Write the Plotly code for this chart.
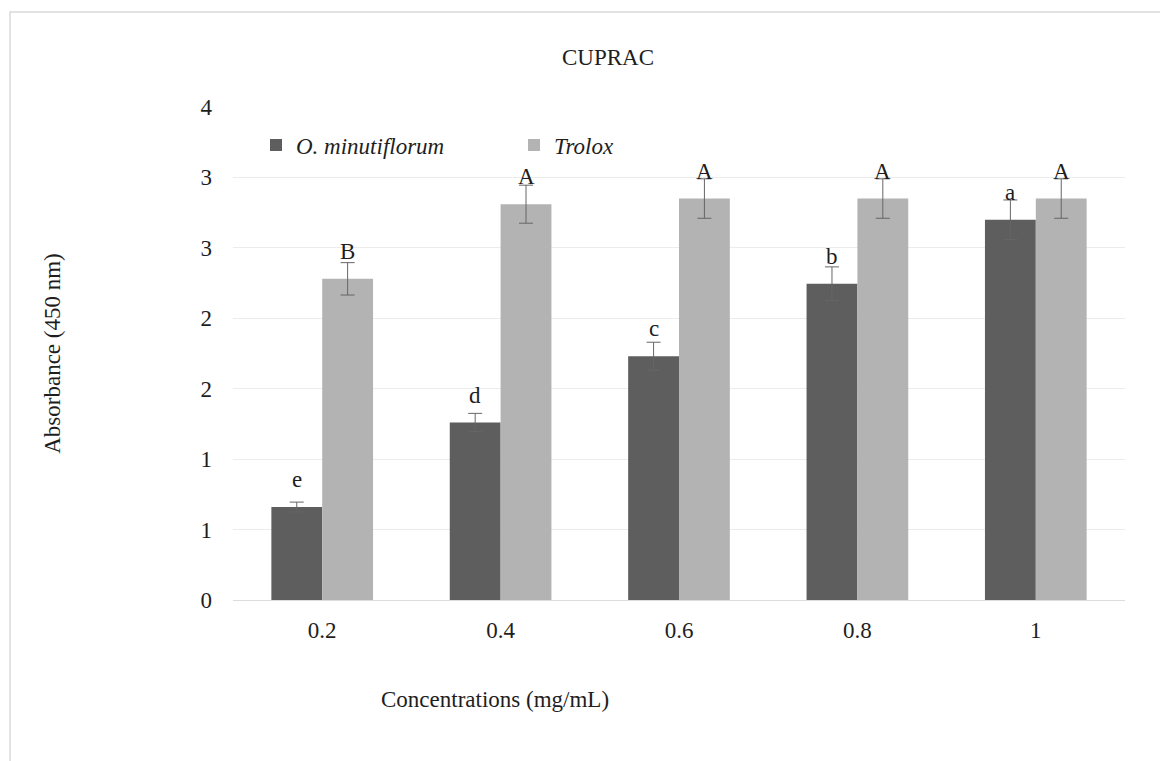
import plotly.graph_objects as go

categories = ["0.2", "0.4", "0.6", "0.8", "1"]
omin_values = [0.66, 1.26, 1.73, 2.245, 2.70]
omin_err = [0.035, 0.065, 0.10, 0.12, 0.14]
omin_letters = ["e", "d", "c", "b", "a"]
trolox_values = [2.28, 2.81, 2.85, 2.85, 2.85]
trolox_err = [0.115, 0.135, 0.14, 0.14, 0.14]
trolox_letters = ["B", "A", "A", "A", "A"]
ytick_vals = [0, 0.5, 1, 1.5, 2, 2.5, 3, 3.5]
ytick_text = ["0", "1", "1", "2", "2", "3", "3", "4"]

FONT = "Liberation Serif"
FS = 23
ERRC = "#666666"
TXT = "#1e1e1e"

# page body adds an 8px margin; work in figure coordinates
W, H = 1160, 753
L, R, T, B = 225, 1117, 99, 592  # plot area edges (figure px)
PW, PH = R - L, B - T

fig = go.Figure()
fig.add_trace(go.Bar(
    x=categories, y=omin_values, name="<i>O. minutiflorum</i>",
    marker=dict(color="#5e5e5e", line=dict(width=0)),
    error_y=dict(type="data", array=omin_err, color=ERRC, thickness=1, width=7),
))
fig.add_trace(go.Bar(
    x=categories, y=trolox_values, name="<i>Trolox</i>",
    marker=dict(color="#b3b3b3", line=dict(width=0)),
    error_y=dict(type="data", array=trolox_err, color=ERRC, thickness=1, width=7),
))

for i, c in enumerate(categories):
    fig.add_annotation(x=i, y=omin_values[i], text=omin_letters[i],
                       xshift=-25.4, yshift=13, showarrow=False, yanchor="bottom",
                       font=dict(family=FONT, size=FS, color=TXT))
    fig.add_annotation(x=i, y=trolox_values[i], text=trolox_letters[i],
                       xshift=25.4, yshift=13, showarrow=False, yanchor="bottom",
                       font=dict(family=FONT, size=FS, color=TXT))

# x-axis title (offset to the left as in the original)
fig.add_annotation(xref="paper", yref="paper", x=(487 - L) / PW, y=(B - 691) / PH,
                   text="Concentrations (mg/mL)", showarrow=False,
                   xanchor="center", yanchor="middle",
                   font=dict(family=FONT, size=FS, color=TXT))

# outer frame
fig.add_shape(type="rect", xref="paper", yref="paper",
              x0=(2 - L) / PW, x1=1.3, y0=-0.6, y1=(B - 4) / PH,
              line=dict(color="#d9d9d9", width=1.5), fillcolor="rgba(0,0,0,0)", layer="below")

fig.update_layout(
    width=W, height=H,
    margin=dict(l=L, r=W - R, t=T, b=H - B),
    paper_bgcolor="white", plot_bgcolor="white",
    barmode="group", bargap=0.43, bargroupgap=0,
    font=dict(family=FONT, size=FS, color=TXT),
    title=dict(text="CUPRAC", x=600 / W, xanchor="center", y=1 - 49 / H, yanchor="middle",
               font=dict(family=FONT, size=FS, color=TXT)),
    showlegend=True,
    legend=dict(orientation="h", x=(248 - L) / PW, y=(B - 137) / PH, xanchor="left", yanchor="middle",
                bgcolor="rgba(0,0,0,0)", font=dict(family=FONT, size=FS, color=TXT),
                itemwidth=30, entrywidth=213, entrywidthmode="pixels", traceorder="normal"),
    xaxis=dict(type="category", showgrid=False, showline=True, linecolor="#dcdcdc", linewidth=1,
               ticks="", tickfont=dict(family=FONT, size=FS, color=TXT),
               ticklabelstandoff=9),
    yaxis=dict(range=[0, 3.5], tickvals=ytick_vals, ticktext=ytick_text,
               showgrid=True, gridcolor="#ececec", gridwidth=1, zeroline=False,
               showline=False, ticks="", ticklabelstandoff=20,
               tickfont=dict(family=FONT, size=FS, color=TXT),
               title=dict(text="Absorbance (450 nm)", standoff=133,
                          font=dict(family=FONT, size=FS, color=TXT))),
)

fig.write_html("out.html")
